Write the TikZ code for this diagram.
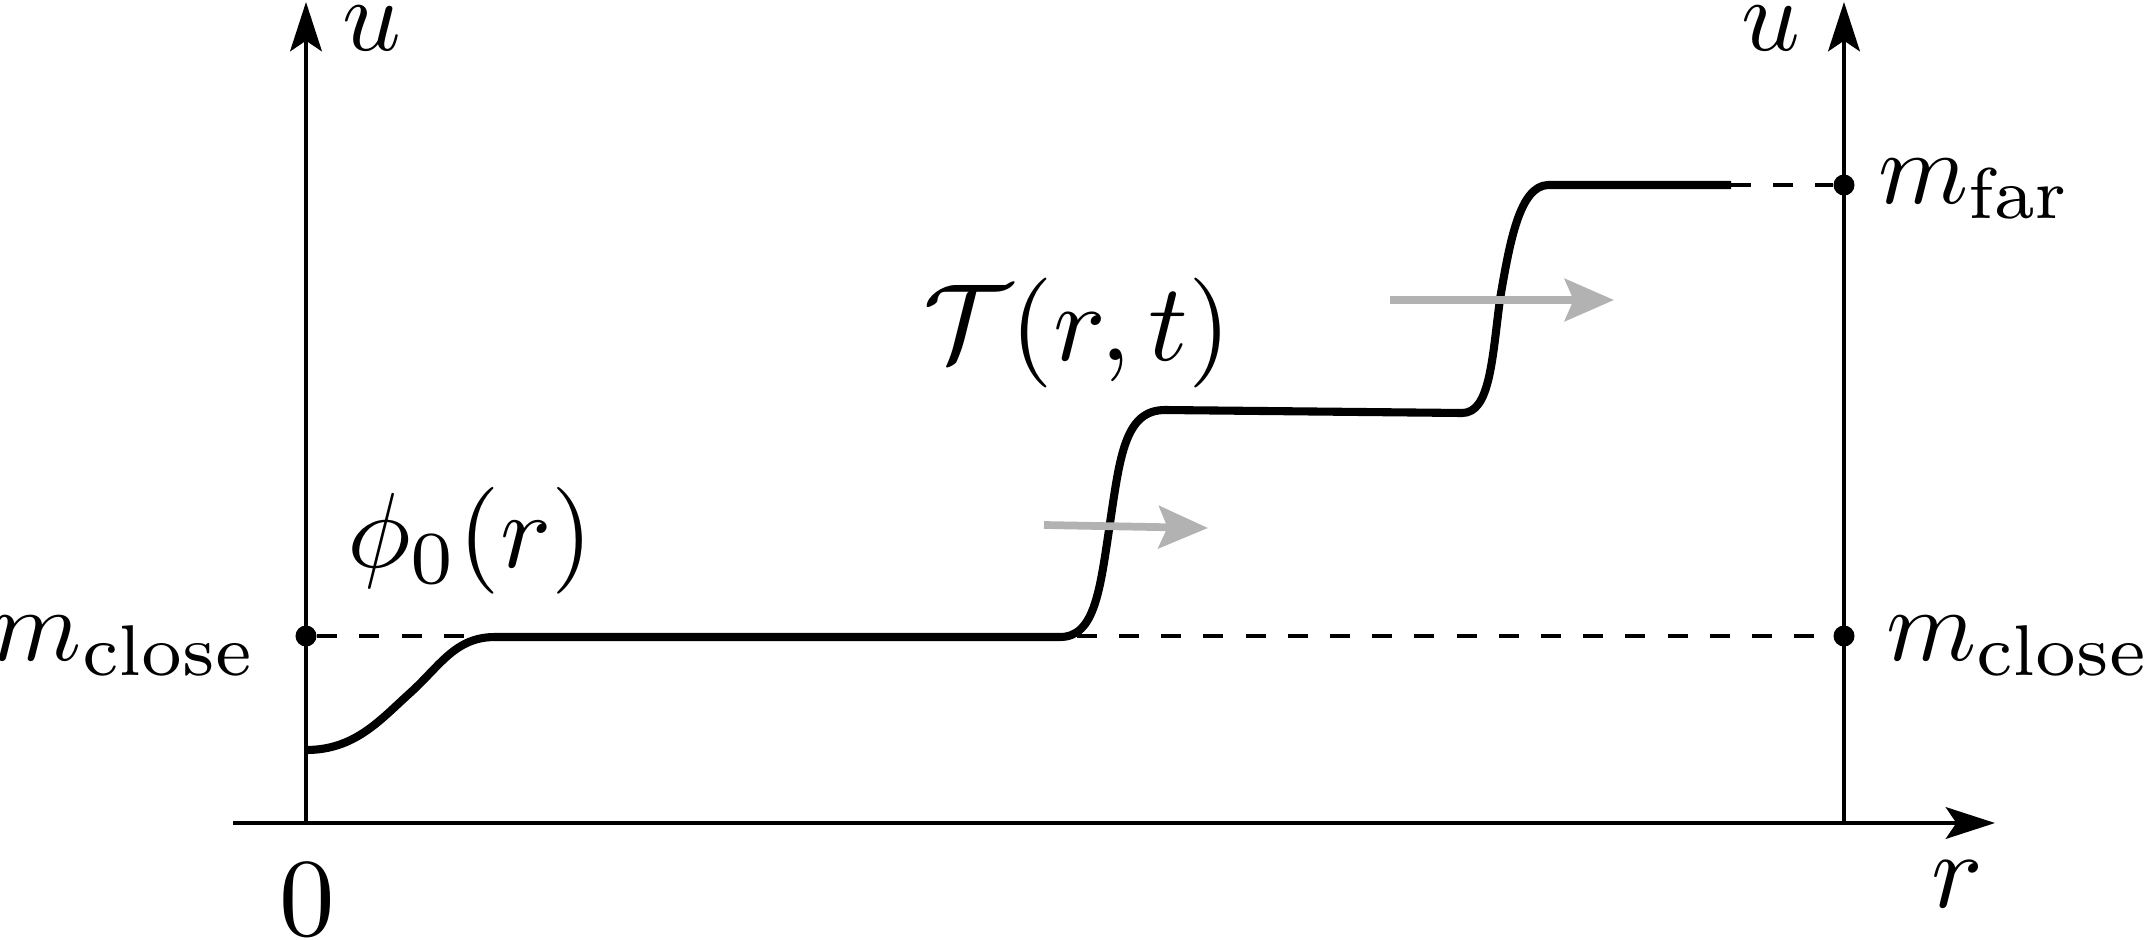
\documentclass[tikz,border=0pt]{standalone}
\usetikzlibrary{arrows.meta}
\begin{document}
\begin{tikzpicture}[x=0.01cm,y=-0.01cm,
  lbl/.style={inner sep=0pt,scale=2.92},
  axisline/.style={line width=1.2pt,-{Stealth[length=14pt,width=9pt,inset=3pt]}},
  graph/.style={line width=2.3pt,line join=round},
  guide/.style={line width=1.4pt,dash pattern=on 5.7pt off 6.3pt},
  move/.style={line width=2.2pt,draw=black!30,-{Stealth[length=14pt,width=12pt,inset=2.5pt,fill=black!30]}},
  dot/.style={circle,fill=black,inner sep=0pt,minimum size=0.21cm}]
\useasboundingbox (0,0) rectangle (2145,939);
% coordinates
\coordinate (O) at (306,823);
\coordinate (Ltop) at (306,2);
\coordinate (Rbot) at (1844,823);
\coordinate (Rtop) at (1844,2);
\coordinate (Xs) at (233,823);
\coordinate (Xe) at (1995,823);
\coordinate (farend) at (1731,185);
% axes
\draw[axisline] (O) -- (Ltop);
\draw[axisline] (Rbot) -- (Rtop);
\draw[axisline] (Xs) -- (Xe);
% dots
\node[dot] (dl) at (306,636) {};
\node[dot] (dr) at (1844,636) {};
\node[dot] (df) at (1844,185) {};
% guides
\draw[guide] (dl) -- (dr);
\draw[guide] (farend) -- (df);
% curve
\draw[graph] (306,750) .. controls (355,750) and (380,720) .. (410,693)
  .. controls (440,666) and (455,637) .. (495,637)
  -- (1060,637)
  .. controls (1095,637) and (1100,590) .. (1110,523)
  .. controls (1120,456) and (1125,410) .. (1165,410)
  -- (1462,413)
  .. controls (1490,413) and (1492,360) .. (1500,299)
  .. controls (1510,240) and (1520,186) .. (1548,185)
  -- (farend);
% motion arrows
\coordinate (a1s) at (1044,525);
\coordinate (a1e) at (1208,528);
\coordinate (a2s) at (1390,300);
\coordinate (a2e) at (1614,300);
\draw[move] (a1s) -- (a1e);
\draw[move] (a2s) -- (a2e);
% labels
\node[lbl,anchor=base west] (ul) at (340,50) {$u$};
\node[lbl,anchor=base west] (ur) at (1739,50) {$u$};
\node[lbl,anchor=base east] (mcl) at (259,660) {$m_{\mathrm{close}}$};
\node[lbl,anchor=base west] (mcr) at (1884,660) {$m_{\mathrm{close}}$};
\node[lbl,anchor=base west] (mf) at (1876,203) {$m_{\mathrm{far}}$};
\node[lbl,anchor=base,scale=1.08] (zero) at (307,935) {$0$};
\node[lbl,anchor=base west,scale=1.05] (rl) at (1929,907) {$r$};
\node[lbl,anchor=base west,scale=1.04] (phi) at (345,567) {$\phi_0(r)$};
\node[lbl,anchor=base west,scale=1.07] (T) at (921,360) {$\mathcal{T}(r,t)$};
\end{tikzpicture}
\end{document}
